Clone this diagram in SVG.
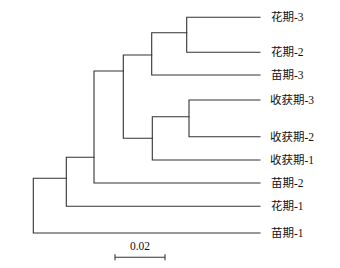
<svg xmlns="http://www.w3.org/2000/svg" width="340" height="268" viewBox="0 0 340 268">
<style>
.e{stroke:#333;stroke-width:1.1;fill:none;stroke-linecap:square}
.t{font-family:"Liberation Serif","Noto Sans CJK SC",serif;font-size:11.5px;fill:#111}
</style>
<rect width="340" height="268" fill="#fff"/>
<g id="connectors">
<path class="e" d="M186.7,17.3V52.3M186.7,17.3H260M186.7,52.3H260"/>
<path class="e" d="M151.7,32.7H186.7M151.7,32.7V75M151.7,75H260"/>
<path class="e" d="M189,100V136.7M189,100H260M189,136.7H260"/>
<path class="e" d="M152.3,116.7H189M152.3,116.7V160M152.3,160H260"/>
<path class="e" d="M123.3,55H151.7M123.3,55V138.3M123.3,138.3H152.3"/>
<path class="e" d="M94,71H123.3M94,71V183M94,183H260"/>
<path class="e" d="M66.3,157.3H94M66.3,157.3V206.3M66.3,206.3H260"/>
<path class="e" d="M33.3,178.3H66.3M33.3,178.3V233M33.3,233H260"/>
</g>
<g id="leaf-huaqi-3"><text class="t" x="271" y="21.3">花期-3</text></g>
<g id="leaf-huaqi-2"><text class="t" x="271" y="56.3">花期-2</text></g>
<g id="leaf-miaoqi-3"><text class="t" x="271" y="79">苗期-3</text></g>
<g id="leaf-shouhuo-3"><text class="t" x="270" y="104">收获期-3</text></g>
<g id="leaf-shouhuo-2"><text class="t" x="270" y="140.7">收获期-2</text></g>
<g id="leaf-shouhuo-1"><text class="t" x="270" y="164">收获期-1</text></g>
<g id="leaf-miaoqi-2"><text class="t" x="271" y="187">苗期-2</text></g>
<g id="leaf-huaqi-1"><text class="t" x="271" y="210.3">花期-1</text></g>
<g id="leaf-miaoqi-1"><text class="t" x="271" y="237">苗期-1</text></g>
<g id="scale-bar">
<path class="e" d="M115,257.3H165M115,254.7V259.8M165,254.7V259.8"/>
<text class="t" x="140" y="250" text-anchor="middle">0.02</text>
</g>
</svg>
